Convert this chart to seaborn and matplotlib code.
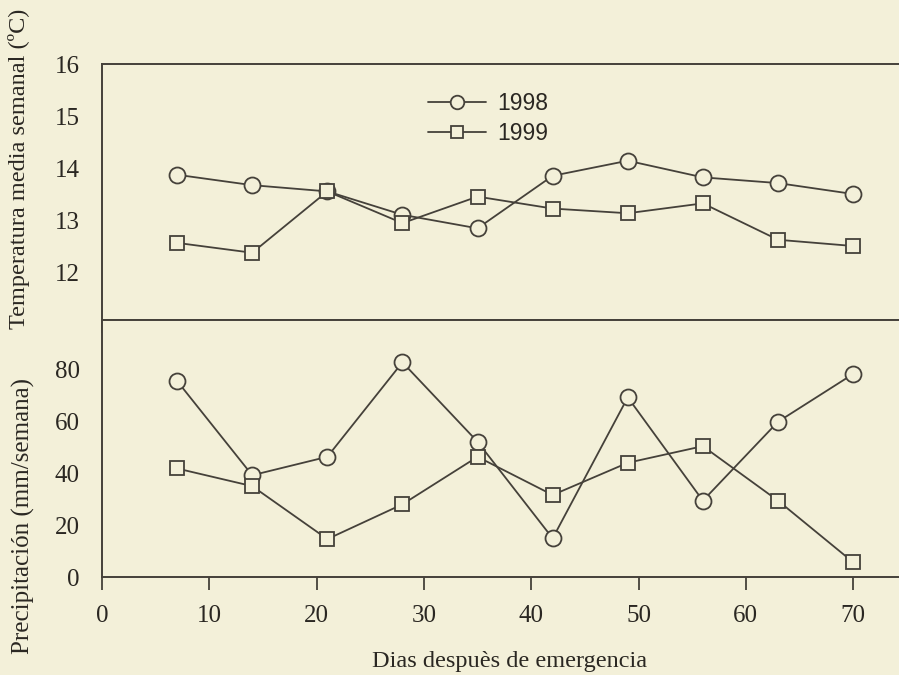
import matplotlib
matplotlib.use("Agg")
import matplotlib.pyplot as plt
import seaborn as sns
import pandas as pd
from matplotlib.lines import Line2D

# ---- data ----
days = [7, 14, 21, 28, 35, 42, 49, 56, 63, 70]
temp_1998 = [13.87, 13.67, 13.55, 13.10, 12.84, 13.85, 14.14, 13.82, 13.71, 13.50]
temp_1999 = [12.56, 12.37, 13.55, 12.94, 13.45, 13.22, 13.13, 13.32, 12.62, 12.50]
prec_1998 = [75.5, 39.2, 46.3, 82.7, 52.1, 14.9, 69.2, 29.4, 59.8, 78.2]
prec_1999 = [41.8, 35.0, 14.6, 28.0, 46.3, 31.6, 44.0, 50.4, 29.4, 5.7]
years = ["1998", "1999"]
temp_yticks = [12, 13, 14, 15, 16]
prec_yticks = [0, 20, 40, 60, 80]
xticks = [0, 10, 20, 30, 40, 50, 60, 70]

bg = "#f3f0d9"
ink = "#45413a"
txt = "#2a2722"

sns.set_style("white")
plt.rcParams["font.family"] = ["Liberation Serif", "DejaVu Serif"]

fig = plt.figure(figsize=(8.99, 6.75), dpi=100, facecolor=bg)
left = 102 / 899
width = 1 - left
ax1 = fig.add_axes([left, 1 - 320 / 675, width, 256 / 675])
ax2 = fig.add_axes([left, 1 - 577 / 675, width, 257 / 675])

temp_df = pd.DataFrame({"x": days * 2,
                        "y": temp_1998 + temp_1999,
                        "year": [years[0]] * len(days) + [years[1]] * len(days)})
prec_df = pd.DataFrame({"x": days * 2,
                        "y": prec_1998 + prec_1999,
                        "year": [years[0]] * len(days) + [years[1]] * len(days)})

markers = {"1998": "o", "1999": "s"}
msize = {"1998": 11.5, "1999": 10.5}

for ax, df in [(ax1, temp_df), (ax2, prec_df)]:
    ax.set_facecolor(bg)
    for yr in years:
        sub = df[df["year"] == yr]
        sns.lineplot(data=sub, x="x", y="y", ax=ax, color=ink, lw=1.3,
                     marker=markers[yr], markersize=msize[yr],
                     markerfacecolor=bg, markeredgecolor=ink, markeredgewidth=1.3,
                     legend=False)
    ax.set_xlim(0, 797 / 10.73)
    ax.set_xlabel("")
    ax.set_ylabel("")
    for s in ["left", "top", "bottom"]:
        ax.spines[s].set_color(ink)
        ax.spines[s].set_linewidth(1.4)
    ax.spines["right"].set_visible(False)
    ax.set_xticks(xticks)
    ax.tick_params(axis="both", colors=ink, labelcolor=txt, labelsize=18,
                   length=9, width=1.3, direction="out")
    ax.tick_params(axis="y", pad=7)

ax1.set_ylim(11.077, 16)
ax1.set_yticks(temp_yticks)
ax1.tick_params(axis="x", labelbottom=False, bottom=True, top=False)

ax2.set_ylim(0, 99.0)
ax2.set_yticks(prec_yticks)
ax2.tick_params(axis="x", pad=11, bottom=True, top=False)

# legend
handles = [Line2D([], [], color=ink, lw=1.3, marker=markers[y], markersize=msize[y] * 0.85,
                  markerfacecolor=bg, markeredgecolor=ink, markeredgewidth=1.3) for y in years]
leg = ax1.legend(handles, years, loc="upper left",
                 bbox_to_anchor=((417 - 102) / 797, 1 - (81 - 64) / 256),
                 frameon=False, prop={"family": ["Liberation Sans"], "size": 16.5},
                 handlelength=2.5, handletextpad=0.5, labelspacing=0.3, borderpad=0)
for t in leg.get_texts():
    t.set_color(txt)

# axis labels
fig.text(19 / 899, 1 - 169 / 675, "Temperatura media semanal (ºC)", rotation=90,
         ha="center", va="center", fontsize=17.5, color=txt)
fig.text(23 / 899, 1 - 516 / 675, "Precipitación (mm/semana)", rotation=90,
         ha="center", va="center", fontsize=18, color=txt)
fig.text(510 / 899, 1 - 661 / 675, "Dias despuès de emergencia",
         ha="center", va="center", fontsize=17.5, color=txt)

fig.savefig("out.png", dpi=100, facecolor=bg)
